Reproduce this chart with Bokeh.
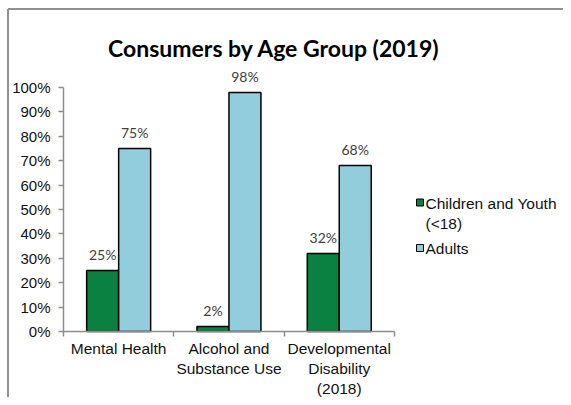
import numpy as np
from bokeh.plotting import figure
from bokeh.models import (ColumnDataSource, Range1d, FixedTicker, NumeralTickFormatter,
                          LabelSet, Label)
from bokeh.core.properties import value
from bokeh.embed import file_html
from bokeh.resources import INLINE

# ---- data ----
categories = ["Mental Health", "Alcohol and\nSubstance Use", "Developmental\nDisability\n(2018)"]
series_names = ["Children and Youth\n(<18)", "Adults"]
children = [0.25, 0.02, 0.32]
adults = [0.75, 0.98, 0.68]
y_ticks = [i / 10 for i in range(11)]

# ---- style / layout (pixel geometry) ----
GREEN = "#0A8140"
BLUE = "#92CDDC"
AXIS_COL = "#8c8c8c"
W, H = 563, 397
X0, XS = 63.0, 110.3     # canvas px of x=0, px per category
Y0, YS = 331.0, 244.0    # canvas px of y=0, px per 100%
BAR_W = 0.29


def px_x(px):
    return (px - X0) / XS


def px_y(py):
    return (Y0 - py) / YS


p = figure(width=W, height=H, output_backend="svg", toolbar_location=None, tools="",
           x_range=Range1d(px_x(0), px_x(W)), y_range=Range1d(px_y(H), px_y(0)),
           min_border=0)
p.title = None
p.outline_line_color = None
p.xgrid.visible = False
p.ygrid.visible = False
p.background_fill_color = "white"
p.border_fill_color = "white"

centers = np.arange(len(categories)) + 0.5
src = ColumnDataSource(dict(
    xc=centers - BAR_W / 2, xa=centers + BAR_W / 2,
    children=children, adults=adults,
    tc=[f"{round(v*100)}%" for v in children],
    ta=[f"{round(v*100)}%" for v in adults],
))

# chart border (top & left)
p.segment(x0=[px_x(7.5), px_x(7.5)], y0=[px_y(8.5), px_y(8.5)],
          x1=[px_x(W), px_x(7.5)], y1=[px_y(8.5), px_y(H)],
          line_color="#909090", line_width=2)

p.vbar(x="xc", top="children", width=BAR_W, bottom=0, source=src,
       fill_color=GREEN, line_color="black", line_width=1.5)
p.vbar(x="xa", top="adults", width=BAR_W, bottom=0, source=src,
       fill_color=BLUE, line_color="black", line_width=1.5)

for xcol, ycol, tcol in (("xc", "children", "tc"), ("xa", "adults", "ta")):
    p.add_layout(LabelSet(x=xcol, y=ycol, text=tcol, source=src, y_offset=16,
                          text_align="center", text_baseline="middle",
                          text_font=value("Lato"), text_font_size=value("14px"),
                          text_color="#404040"))

# axes
ya = p.yaxis[0]
ya.fixed_location = 0
ya.ticker = FixedTicker(ticks=y_ticks)
ya.formatter = NumeralTickFormatter(format="0%")
ya.bounds = (0, 1)
ya.axis_line_color = AXIS_COL
ya.axis_line_width = 1.5
ya.major_tick_line_color = AXIS_COL
ya.major_tick_line_width = 1.5
ya.major_tick_in = 0
ya.major_tick_out = 5
ya.minor_tick_line_color = None
ya.major_label_standoff = 8
ya.major_label_text_font = "Liberation Sans"
ya.major_label_text_font_size = "15px"
ya.major_label_text_color = "#111111"

xa = p.xaxis[0]
xa.fixed_location = 0
xa.ticker = FixedTicker(ticks=list(centers), minor_ticks=list(range(len(categories) + 1)))
xa.major_label_overrides = {float(c): lab for c, lab in zip(centers, categories)}
xa.bounds = (0, len(categories))
xa.axis_line_color = AXIS_COL
xa.axis_line_width = 1.5
xa.major_tick_line_color = None
xa.major_tick_in = 0
xa.major_tick_out = 0
xa.minor_tick_line_color = AXIS_COL
xa.minor_tick_line_width = 1.5
xa.minor_tick_in = 0
xa.minor_tick_out = 5
xa.major_label_standoff = 3
xa.major_label_text_font = "Liberation Sans"
xa.major_label_text_font_size = "15.5px"
xa.major_label_text_color = "#111111"

# title
p.add_layout(Label(x=px_x(273.5), y=px_y(47), text="Consumers by Age Group (2019)",
                   text_align="center", text_baseline="alphabetic",
                   text_font="Lato", text_font_style="bold", text_font_size="23px",
                   text_color="black"))

# legend (manual, Excel style)
leg_y = [px_y(202), px_y(247.5)]
p.scatter(x=[px_x(419.5)] * 2, y=leg_y, marker="square", size=7,
          fill_color=[GREEN, BLUE], line_color="black", line_width=1)
leg_lines = [series_names[0].split("\n")[0], series_names[0].split("\n")[1], series_names[1]]
for t, yy in zip(leg_lines, [203, 223, 248]):
    p.add_layout(Label(x=px_x(425), y=px_y(yy), text=t, text_align="left",
                       text_baseline="middle", text_font="Liberation Sans",
                       text_font_size="15.5px", text_color="#111111"))

open("out.html", "w").write(file_html(p, INLINE))
